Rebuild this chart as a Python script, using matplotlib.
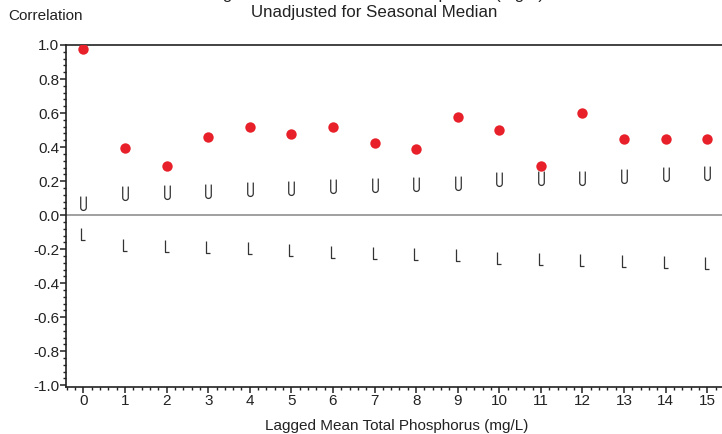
import numpy as np
import matplotlib
matplotlib.use("Agg")
import matplotlib.pyplot as plt
from matplotlib.path import Path
from matplotlib.ticker import AutoMinorLocator

plt.rcParams['font.family'] = ['Liberation Sans', 'DejaVu Sans']
plt.rcParams['axes.unicode_minus'] = False

# Werte
lags = list(range(16))
corr = [0.976, 0.392, 0.29, 0.46, 0.52, 0.476, 0.518, 0.424, 0.388, 0.576,
        0.50, 0.286, 0.60, 0.445, 0.45, 0.449]
upper = [0.069, 0.13, 0.137, 0.141, 0.151, 0.157, 0.171, 0.176, 0.186, 0.19,
         0.21, 0.216, 0.22, 0.229, 0.24, 0.245]
lower = [-0.108, -0.176, -0.182, -0.186, -0.196, -0.202, -0.216, -0.222, -0.231,
         -0.235, -0.25, -0.26, -0.265, -0.27, -0.278, -0.284]
yticks = [1.0, 0.8, 0.6, 0.4, 0.2, 0.0, -0.2, -0.4, -0.6, -0.8, -1.0]

title_top = "Lag Correlation with Total Phosphorus (mg/L)"
title_sub = "Unadjusted for Seasonal Median"
xlabel = "Lagged Mean Total Phosphorus (mg/L)"
ylabel = "Correlation"

# Buchstaben-Marker U und L als Pfade
t = np.linspace(np.pi, 2 * np.pi, 20)
u_verts = [(-0.4, 1.0)] + [(0.4 * np.cos(a), -0.6 + 0.4 * np.sin(a)) for a in t] + [(0.4, 1.0)]
u_marker = Path(u_verts)
l_marker = Path([(-0.35, 1.0), (-0.35, -1.0), (0.35, -1.0)])

fig = plt.figure(figsize=(7.22, 4.34), dpi=100)
ax = fig.add_axes([66 / 722, 47 / 434, 662 / 722, 342 / 434])

ax.axhline(0, color='#a0a0a0', lw=1.4, zorder=1)
ax.plot(lags, upper, ls='none', marker=u_marker, markersize=10,
        mfc='none', mec='#333333', mew=0.9, zorder=2)
ax.plot(lags, lower, ls='none', marker=l_marker, markersize=9,
        mfc='none', mec='#333333', mew=0.9, zorder=2)
ax.scatter(lags, corr, s=56, color='#e8202a', zorder=3, linewidths=0)

ax.set_xlim(-0.42, 15.5)
ax.set_ylim(-1.01, 1.0)
ax.set_xticks(lags)
ax.set_yticks(yticks)
ax.set_yticklabels([f"{v:.1f}" for v in yticks])
ax.xaxis.set_minor_locator(AutoMinorLocator(5))
ax.yaxis.set_minor_locator(AutoMinorLocator(5))

ax.spines['right'].set_visible(False)
for side in ['left', 'bottom', 'top']:
    ax.spines[side].set_linewidth(1.2)
    ax.spines[side].set_color('#222222')

ax.tick_params(which='major', direction='out', length=4, width=1.1,
               labelsize=11, colors='#222222', pad=1)
ax.tick_params(which='minor', direction='out', length=2.5, width=1.0, colors='#222222')
ax.tick_params(axis='x', which='both', top=False)

ax.set_xlabel(xlabel, fontsize=11, color='#222222', labelpad=8)

fig.text(8 / 722, 1 - 16 / 434, ylabel, fontsize=11, color='#222222', va='center', ha='left')
fig.text(374 / 722, 1 + 1 / 434, title_top, fontsize=12.2, color='#222222',
         ha='center', va='baseline')
fig.text(374 / 722, 1 - 17 / 434, title_sub, fontsize=12.2, color='#222222',
         ha='center', va='baseline')

fig.savefig('out.png', dpi=100)
